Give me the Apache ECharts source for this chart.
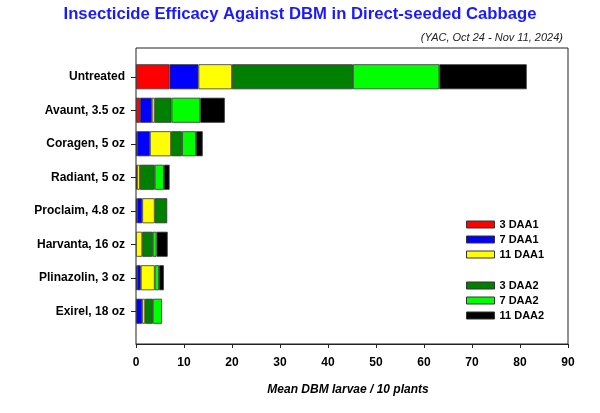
<!DOCTYPE html>
<html>
<head>
<meta charset="utf-8">
<script src="https://cdn.jsdelivr.net/npm/echarts@6/dist/echarts.min.js"></script>
<style>
html,body{margin:0;padding:0;background:#fff;}
#c{width:600px;height:413px;}
</style>
</head>
<body>
<div id="c"></div>
<script>
const categories = ["Untreated", "Avaunt, 3.5 oz", "Coragen, 5 oz", "Radiant, 5 oz", "Proclaim, 4.8 oz", "Harvanta, 16 oz", "Plinazolin, 3 oz", "Exirel, 18 oz"];
const seriesNames = ["3 DAA1", "7 DAA1", "11 DAA1", "3 DAA2", "7 DAA2", "11 DAA2"];
const daa1_3  = [7.0, 0.8, 0.2, 0.2, 0.2, null, 0.2, null];
const daa1_7  = [6.0, 2.5, 2.7, null, 1.1, null, 0.8, 1.3];
const daa1_11 = [7.0, 0.6, 4.4, 0.6, 2.6, 1.3, 2.9, 0.6];
const daa2_3  = [25.2, 3.5, 2.3, 3.1, 2.6, 2.2, null, 1.6];
const daa2_7  = [18.0, 6.0, 2.9, 1.9, null, 0.8, 0.9, 1.9];
const daa2_11 = [18.2, 5.1, 1.4, 1.2, null, 2.3, 1.0, null];
const xTicks = [0, 10, 20, 30, 40, 50, 60, 70, 80, 90];

const values = [daa1_3, daa1_7, daa1_11, daa2_3, daa2_7, daa2_11];
const colors = ["#ff0000", "#0000ff", "#ffff00", "#008000", "#00ff00", "#000000"];
const font = "Liberation Sans, Arial, sans-serif";

const chart = echarts.init(document.getElementById('c'), null, {renderer: 'canvas'});
const series = values.map((v, i) => ({
  name: seriesNames[i],
  type: 'bar',
  stack: 'total',
  xAxisIndex: 1,
  yAxisIndex: 1,
  barWidth: 25,
  data: v,
  itemStyle: {color: colors[i], borderColor: '#333', borderWidth: 0.8},
  emphasis: {disabled: true},
  animation: false
}));

const legendCommon = {
  orient: 'vertical',
  left: 461,
  itemWidth: 28,
  itemHeight: 7,
  itemGap: 2,
  icon: 'rect',
  selectedMode: false,
  textStyle: {fontFamily: font, fontWeight: 'bold', fontSize: 11, color: '#000', lineHeight: 13},
  itemStyle: {borderColor: '#333', borderWidth: 1}
};

chart.setOption({
  backgroundColor: '#fff',
  animation: false,
  title: [
    {text: 'Insecticide Efficacy Against DBM in Direct-seeded Cabbage', left: 'center', top: 1,
     textStyle: {color: '#1a1aff', fontFamily: font, fontWeight: 'bold', fontSize: 16.7}},
    {text: '(YAC, Oct 24 - Nov 11, 2024)', right: 32, top: 27,
     textStyle: {color: '#222', fontFamily: font, fontStyle: 'italic', fontWeight: 'normal', fontSize: 11}},
    {text: 'Mean DBM larvae / 10 plants', left: 343, textAlign: 'center', top: 379,
     textStyle: {color: '#000', fontFamily: font, fontStyle: 'italic', fontWeight: 'bold', fontSize: 12}}
  ],
  legend: [
    Object.assign({}, legendCommon, {top: 213, data: seriesNames.slice(0, 3)}),
    Object.assign({}, legendCommon, {top: 274, data: seriesNames.slice(3, 6)})
  ],
  grid: [
    {left: 136, right: 32, top: 48, bottom: 69, show: true, borderColor: '#222', borderWidth: 1, backgroundColor: 'transparent'},
    {left: 136, right: 32, top: 60, bottom: 85}
  ],
  xAxis: [
    {type: 'value', gridIndex: 0, min: xTicks[0], max: xTicks[xTicks.length - 1], interval: 10,
     axisLine: {show: true, lineStyle: {color: '#222', width: 1}},
     axisTick: {show: true, inside: false, length: 4, lineStyle: {color: '#222'}},
     splitLine: {show: false},
     axisLabel: {fontFamily: font, fontWeight: 'bold', fontSize: 12, color: '#000', margin: 13}},
    {type: 'value', gridIndex: 1, min: 0, max: 90, show: false, splitLine: {show: false}}
  ],
  yAxis: [
    {type: 'value', gridIndex: 0, show: false, splitLine: {show: false}},
    {type: 'category', gridIndex: 1, data: categories, inverse: true,
     axisLine: {show: false},
     axisTick: {show: true, alignWithLabel: true, length: 5, lineStyle: {color: '#222'}},
     axisLabel: {fontFamily: font, fontWeight: 'bold', fontSize: 12, color: '#000', margin: 11}}
  ],
  series: series
});
</script>
</body>
</html>
